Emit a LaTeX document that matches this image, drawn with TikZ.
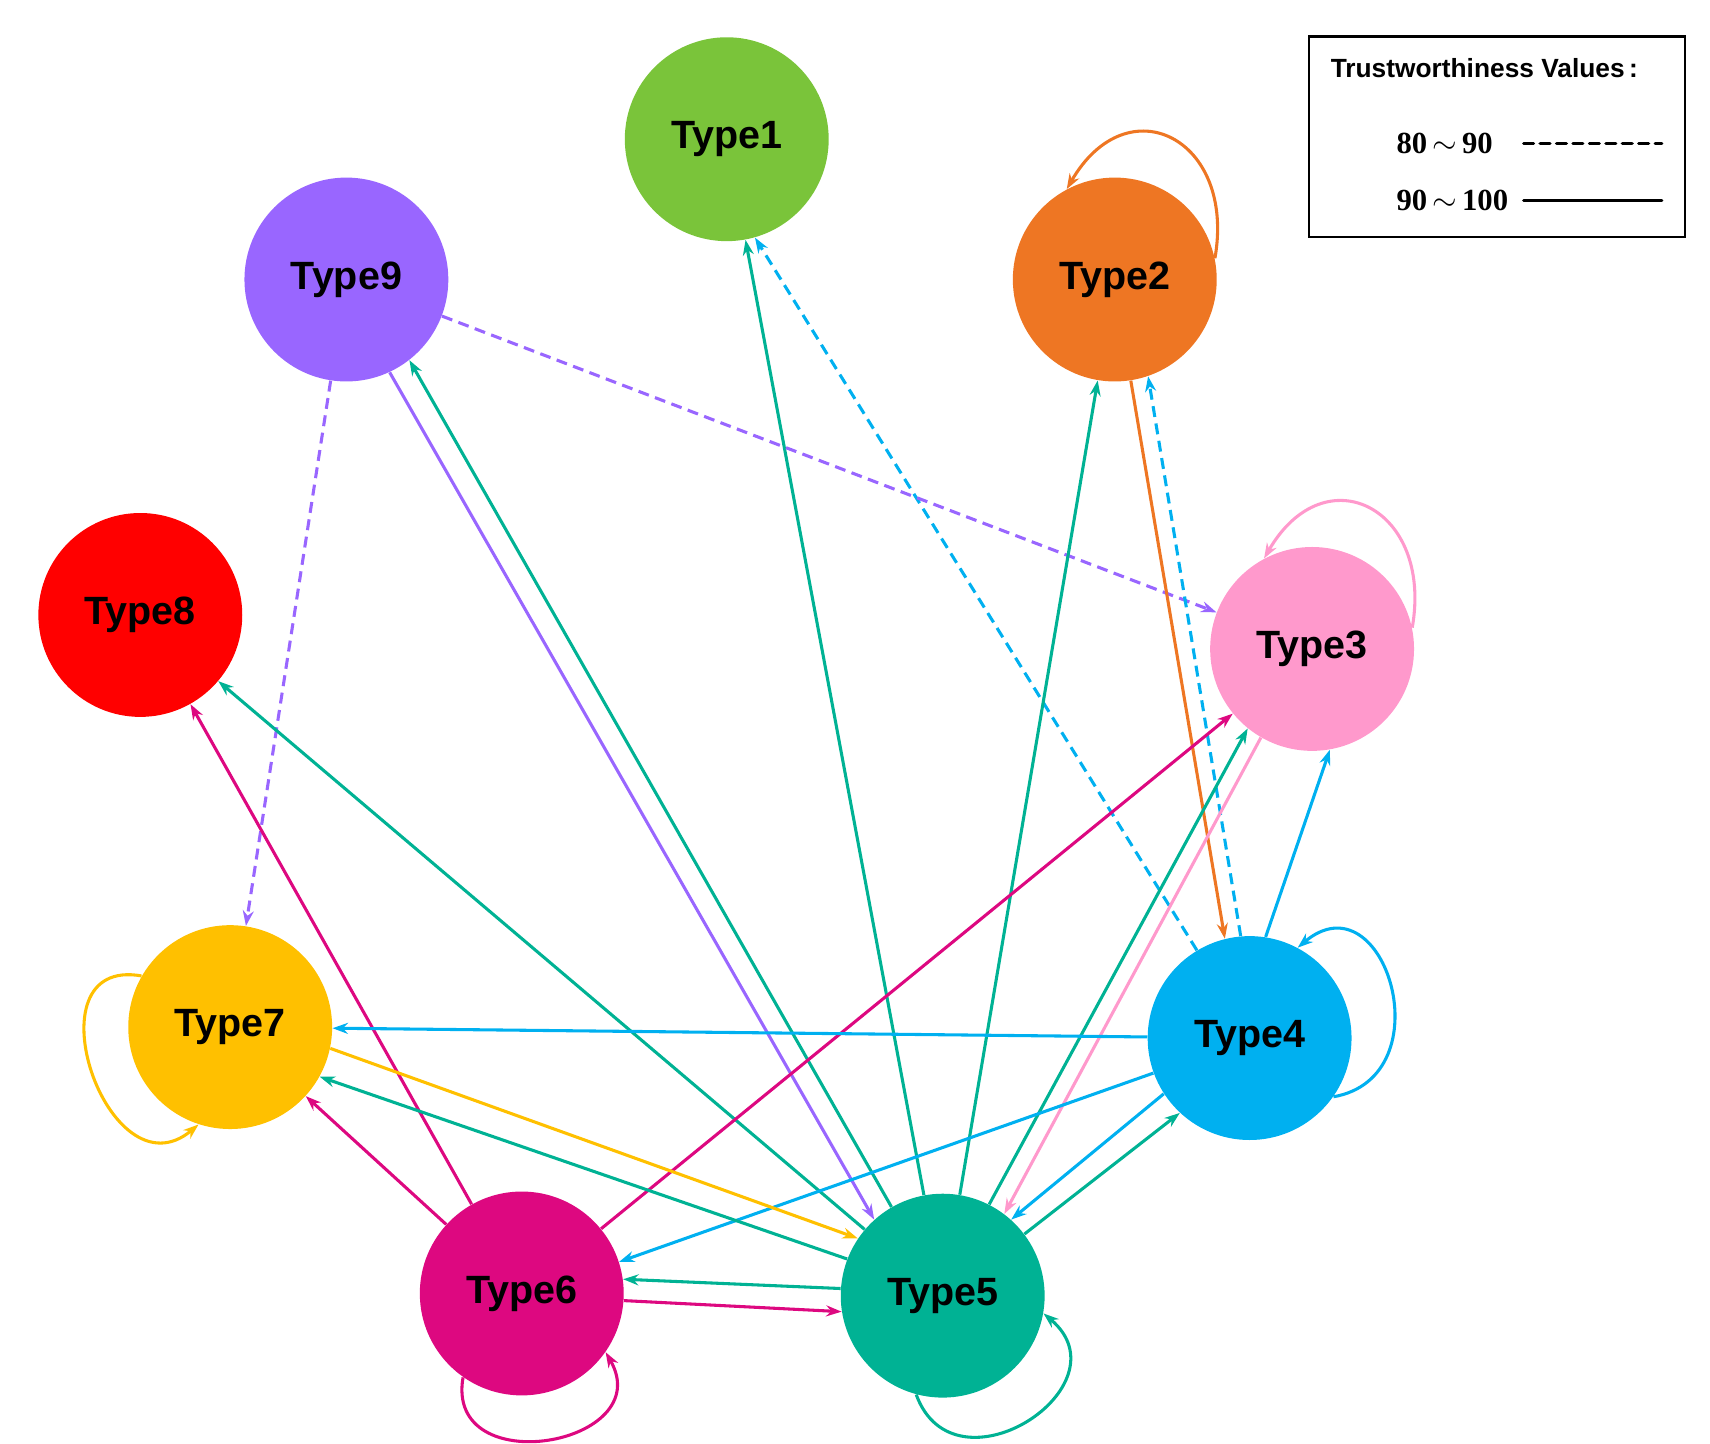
\documentclass[tikz,border=0pt]{standalone}
\usepackage{fontspec}
\setmainfont{Liberation Sans}
\newfontfamily\tms{Liberation Serif}
\usetikzlibrary{arrows.meta}
\definecolor{kg}{HTML}{7AC43A}\definecolor{ko}{HTML}{EE7623}
\definecolor{kp}{HTML}{9966FF}\definecolor{kr}{HTML}{FF0000}
\definecolor{kk}{HTML}{FF99CC}\definecolor{kb}{HTML}{00B0F0}
\definecolor{ky}{HTML}{FFC000}\definecolor{km}{HTML}{DD0880}
\definecolor{kt}{HTML}{00B294}
\begin{document}
\begin{tikzpicture}[x=0.5pt,y=-0.5pt,
 ty/.style={circle,minimum size=93pt,inner sep=0pt,font=\fontsize{18}{20}\selectfont\bfseries},
 e/.style={-{Stealth[length=7pt,width=5pt]},line width=1.4pt},
 d/.style={e,dash pattern=on 5pt off 3pt}]
\useasboundingbox (0,0) rectangle (1560,1317);
\node[ty,fill=kg] (T1) at (663,127) {Type1};
\node[ty,fill=ko] (T2) at (1017,255) {Type2};
\node[ty,fill=kp] (T9) at (316,255) {Type9};
\node[ty,fill=kr] (T8) at (128,561) {Type8};
\node[ty,fill=kk] (T3) at (1197,592) {Type3};
\node[ty,fill=kb] (T4) at (1140,947) {Type4};
\node[ty,fill=ky] (T7) at (210,937) {Type7};
\node[ty,fill=km] (T6) at (476,1180) {Type6};
\node[ty,fill=kt] (T5) at (860,1182) {Type5};
% edges
\draw[e,kt] (T5) -- (T1);
\draw[d,kb] (T4.121) -- (T1.-74);
\draw[e,kt] (T5.120) -- (T9.-52);
\draw[e,kp] (T9.-65) -- (T5.132);
\draw[d,kp] (T9) -- (T3);
\draw[d,kp] (T9) -- (T7);
\draw[e,kt] (T5) -- (T8);
\draw[e,km] (T6) -- (T8);
\draw[e,kt] (T5) -- (T2);
\draw[e,ko] (T2.-81) -- (T4.104);
\draw[d,kb] (T4.95) -- (T2.-71);
\draw[e,kt] (T5.63) -- (T3.231);
\draw[e,kk] (T3.240) -- (T5.53);
\draw[e,km] (T6) -- (T3);
\draw[e,kb] (T4.81) -- (T3.-80);
\draw[e,kb] (T4) -- (T7);
\draw[e,kb] (T4.200) -- (T6.18);
\draw[e,kb] (T4.213) -- (T5.48);
\draw[e,kt] (T5.37) -- (T4.227);
\draw[e,ky] (T7.-12) -- (T5.146);
\draw[e,kt] (T5.159) -- (T7.-29);
\draw[e,km] (T6) -- (T7);
\draw[e,kt] (T5.176) -- (T6.8);
\draw[e,km] (T6.-4) -- (T5.189);
% loops
\draw[e,ko] (T2.12) to[out=80,in=60,looseness=1.9] (T2.118);
\draw[e,kk] (T3.12) to[out=80,in=60,looseness=1.9] (T3.118);
\draw[e,kb] (T4.-35) to[out=10,in=40,looseness=1.9] (T4.62);
\draw[e,ky] (T7.150) to[out=170,in=-140,looseness=1.9] (T7.-108);
\draw[e,km] (T6.-125) to[out=-100,in=-60,looseness=1.9] (T6.-35);
\draw[e,kt] (T5.-105) to[out=-70,in=-40,looseness=1.9] (T5.-10);
% legend
\node[draw,line width=1.2pt,minimum width=171.5pt,minimum height=91.5pt,anchor=north west] (L) at (1193,32) {};
\node[font=\fontsize{12}{14}\selectfont\bfseries,anchor=west] (LT) at (1207,62) {Trustworthiness Values\,:};
\node[font=\tms\fontsize{14}{16}\selectfont\bfseries,anchor=west] (L1) at (1267,131) {80\,$\sim$\,90};
\node[font=\tms\fontsize{14}{16}\selectfont\bfseries,anchor=west] (L2) at (1267,183) {90\,$\sim$\,100};
\coordinate (a1) at (1390,131); \coordinate (b1) at (1516,131);
\coordinate (a2) at (1390,183); \coordinate (b2) at (1516,183);
\draw[line width=1.5pt,dash pattern=on 4.5pt off 3pt,line cap=round] (a1) -- (b1);
\draw[line width=1.5pt,line cap=round] (a2) -- (b2);
\end{tikzpicture}
\end{document}
